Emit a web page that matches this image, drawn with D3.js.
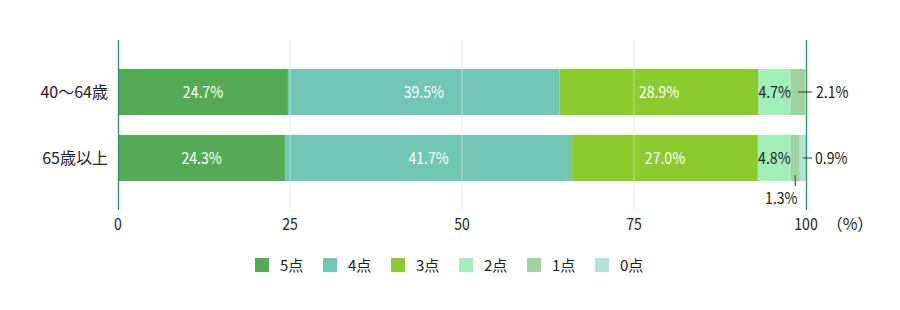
<!DOCTYPE html>
<html><head><meta charset="utf-8">
<script src="https://cdn.jsdelivr.net/npm/d3@7"></script>
<style>body{margin:0;background:#fff}svg{font-family:"Noto Sans CJK JP","Noto Sans",sans-serif}</style>
</head><body><svg id="c" width="900" height="310"></svg>
<script>
const categories = ["40〜64歳", "65歳以上"];
const seriesNames = ["5点", "4点", "3点", "2点", "1点", "0点"];
const colors = ["#55ab55", "#72c6b4", "#8ccb2e", "#a3efbc", "#a0d29f", "#b3e2d8"];
const values = [
  [24.7, 39.5, 28.9, 4.7, 2.1, 0.0],
  [24.3, 41.7, 27.0, 4.8, 1.3, 0.9]
];
const ticks = [0, 25, 50, 75, 100];

const FS = 16, SX = 0.88;
const svg = d3.select("#c");
const x = d3.scaleLinear().domain([0, 100]).range([118, 806]);
const y = d3.scaleBand().domain(categories).range([59, 191]).paddingInner(0.3).paddingOuter(0.15);

// condensed numeric text helper
function numText(parent, tx, ty, str, anchor, fill) {
  parent.append("text").attr("transform", `translate(${tx},${ty}) scale(${SX},1)`)
    .attr("text-anchor", anchor).attr("font-size", FS).attr("fill", fill).text(str);
}

const stacked = categories.map((c, i) => {
  let acc = 0;
  return values[i].map((v, j) => { const s = {cat: c, j, v, x0: acc, x1: acc + v}; acc += v; return s; });
});

const g = svg.append("g");
stacked.forEach(row => {
  g.selectAll(null).data(row.filter(d => d.v > 0)).enter().append("rect")
    .attr("x", d => x(d.x0)).attr("width", d => x(d.x1) - x(d.x0))
    .attr("y", d => y(d.cat)).attr("height", y.bandwidth())
    .attr("fill", d => colors[d.j]);
});

svg.selectAll(".grid").data([25, 50, 75]).enter().append("line")
  .attr("x1", d => x(d)).attr("x2", d => x(d)).attr("y1", 40).attr("y2", 210)
  .attr("stroke", "#d3ebe4").attr("stroke-width", 1).attr("opacity", 0.6);
svg.selectAll(".ax").data([0, 100]).enter().append("line")
  .attr("x1", d => x(d) + 0.5).attr("x2", d => x(d) + 0.5).attr("y1", 40).attr("y2", 210)
  .attr("stroke", "#2f8f5b").attr("stroke-width", 1.3);

ticks.forEach(t => numText(svg, x(t), 230, t, "middle", "#222"));
svg.append("text").attr("x", 850).attr("y", 230).attr("text-anchor", "middle")
  .attr("font-size", FS).attr("fill", "#222").text("（%）");

svg.selectAll(".cat").data(categories).enter().append("text")
  .attr("x", 108).attr("y", d => y(d) + y.bandwidth() / 2 + 6).attr("text-anchor", "end")
  .attr("font-size", FS).attr("fill", "#222").text(d => d);

stacked.forEach(row => {
  row.filter(d => d.j <= 3).forEach(d => {
    numText(svg, x((d.x0 + d.x1) / 2), y(d.cat) + y.bandwidth() / 2 + 6, d.v.toFixed(1) + "%", "middle", d.j <= 2 ? "#fff" : "#222");
  });
});

const r0 = stacked[0], r1 = stacked[1];
const cy0 = y(categories[0]) + y.bandwidth() / 2, cy1 = y(categories[1]) + y.bandwidth() / 2;
svg.append("line").attr("x1", x((r0[4].x0 + r0[4].x1) / 2)).attr("x2", 812).attr("y1", cy0).attr("y2", cy0).attr("stroke", "#333");
numText(svg, 816, cy0 + 6, r0[4].v.toFixed(1) + "%", "start", "#222");
svg.append("line").attr("x1", x((r1[5].x0 + r1[5].x1) / 2)).attr("x2", 812).attr("y1", cy1).attr("y2", cy1).attr("stroke", "#333");
numText(svg, 815, cy1 + 6, r1[5].v.toFixed(1) + "%", "start", "#222");
const lx = x((r1[4].x0 + r1[4].x1) / 2);
svg.append("line").attr("x1", lx).attr("x2", lx).attr("y1", y(categories[1]) + y.bandwidth() - 6).attr("y2", 186).attr("stroke", "#666").attr("stroke-width", 1.5);
numText(svg, lx - 14, 204, r1[4].v.toFixed(1) + "%", "middle", "#222");

const lg = svg.append("g").selectAll("g").data(seriesNames).enter().append("g")
  .attr("transform", (d, i) => `translate(${255 + i * 68},258)`);
lg.append("rect").attr("width", 14).attr("height", 14).attr("fill", (d, i) => colors[i]);
lg.append("text").attr("x", 25).attr("y", 13).attr("font-size", FS - 1).attr("fill", "#222").text(d => d);
</script></body></html>
